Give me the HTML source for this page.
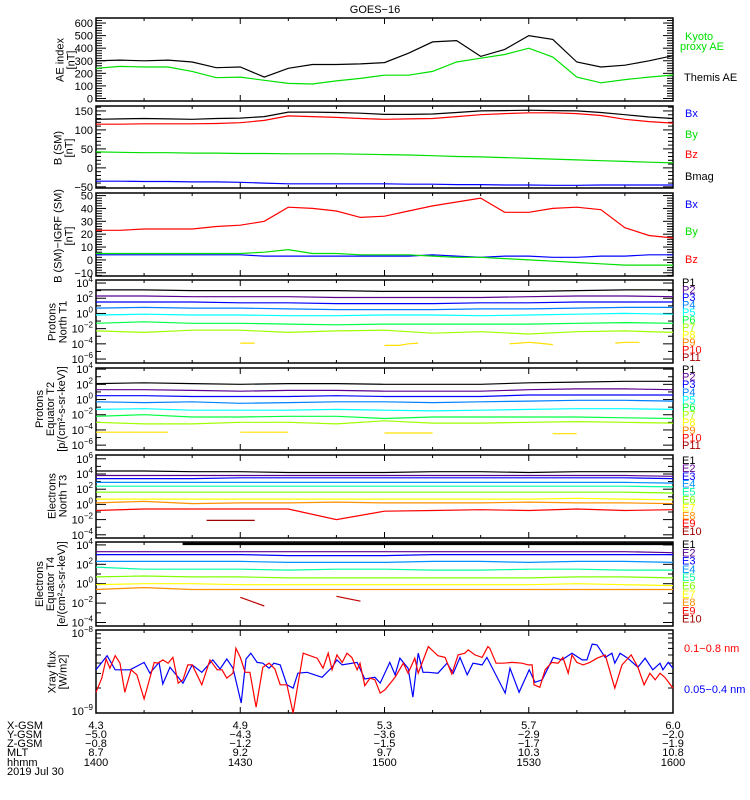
<!DOCTYPE html>
<html><head><meta charset="utf-8">
<style>
html,body{margin:0;padding:0;background:#fff;}
svg{display:block;font-family:"Liberation Sans",sans-serif;}
text{font-size:11px;}
</style></head>
<body>
<svg id="chart" width="750" height="800" viewBox="0 0 750 800" xmlns="http://www.w3.org/2000/svg">
<rect x="0" y="0" width="750" height="800" fill="#fff"/>
<text x="375" y="13" text-anchor="middle" font-size="12">GOES−16</text>
</svg>
<script>
// ---------- data ----------
const tGrid5 = [0,5,10,15,20,25,30,35,40,45,50,55,60,65,70,75,80,85,90,95,100,105,110,115,120];
const tGrid10 = [0,10,20,30,40,50,60,70,80,90,100,110,120];
const themisAE = [300,305,300,305,290,245,250,170,240,270,270,275,285,360,450,460,335,390,500,470,290,250,265,300,340];
const kyotoAE  = [240,255,250,250,215,165,170,145,120,115,140,160,185,185,215,290,320,350,400,330,170,125,150,170,187];
const bxSM = [-35,-35,-36,-36,-37,-37,-38,-40,-42,-42,-42,-42,-42,-43,-43,-44,-44,-45,-45,-46,-46,-45,-45,-45,-45];
const bySM = [42,41,40,40,39,39,38,38,37,37,37,36,35,34,32,30,29,27,25,23,21,19,17,15,13];
const bzSM = [115,115,116,116,116,117,119,125,137,135,133,130,128,129,130,135,140,143,145,145,143,138,128,122,118];
const bmagSM = [128,129,130,129,128,130,131,135,147,147,146,144,141,141,142,146,150,151,152,151,150,146,140,134,130];
const bxD = [4,4,4,4,4,4,4,3,3,3,3,3,3,3,4,3,2,3,3,2,2,3,3,4,4];
const byD = [5,5,5,5,5,5,5,6,8,5,5,4,4,4,3,2,2,1,0,-1,-2,-3,-4,-4,-4];
const bzD = [23,23,24,24,24,26,27,30,41,40,38,33,34,38,42,45,48,37,37,40,41,39,25,19,17];
const pN = [
 [3.1,3.1,3.0,3.0,3.0,3.0,2.9,2.9,2.9,2.9,3.0,3.1,3.1],
 [2.3,2.3,2.2,2.2,2.2,2.1,2.1,2.1,2.1,2.2,2.3,2.3,2.2],
 [1.5,1.5,1.5,1.4,1.4,1.3,1.3,1.3,1.4,1.4,1.5,1.5,1.5],
 [0.7,0.8,0.7,0.7,0.6,0.5,0.5,0.5,0.6,0.6,0.7,0.8,0.8],
 [-0.2,-0.1,-0.2,-0.2,-0.3,-0.3,-0.2,-0.2,-0.3,-0.2,-0.1,0.0,-0.1],
 [-1.3,-1.1,-1.3,-1.3,-1.4,-1.5,-1.4,-1.4,-1.4,-1.4,-1.3,-1.2,-1.3],
 [-2.3,-2.5,-2.2,-2.2,-2.5,-2.3,-2.2,-2.6,-2.4,-2.7,-2.4,-2.3,-2.5]
];
const pNyelT = [30,33,60,63,65,67,86,88,90,92,95,108,110,113];
const pNyel  = [-3.9,-3.9,-4.2,-4.2,-4.0,-3.9,-4.0,-3.9,-3.8,-3.9,-4.1,-3.9,-3.8,-3.8];
const pNyelBreak = [0,0,1,0,0,0,1,0,0,0,0,1,0,0];
const pE = [
 [2.1,2.2,2.1,2.0,2.1,2.1,2.0,2.0,2.0,2.2,2.3,2.4,2.4],
 [1.3,1.3,1.2,1.1,1.2,1.2,1.1,1.1,1.1,1.3,1.4,1.4,1.3],
 [0.5,0.5,0.4,0.4,0.4,0.5,0.4,0.4,0.4,0.6,0.6,0.6,0.6],
 [-0.3,-0.4,-0.3,-0.5,-0.4,-0.3,-0.3,-0.4,-0.3,-0.2,-0.1,-0.1,-0.2],
 [-1.3,-1.2,-1.4,-1.4,-1.4,-1.3,-1.4,-1.5,-1.4,-1.3,-1.2,-1.2,-1.3],
 [-2.2,-2.0,-2.3,-2.3,-2.2,-2.2,-2.5,-2.3,-2.3,-2.3,-2.3,-2.4,-2.5],
 [-3.0,-3.2,-3.2,-3.0,-3.0,-3.2,-2.8,-3.1,-3.1,-3.0,-2.9,-3.0,-3.1]
];
const pEyelT = [0,15,30,40,60,70,95,100];
const pEyel  = [-4.3,-4.3,-4.3,-4.3,-4.4,-4.4,-4.5,-4.5];
const pEyelBreak = [0,0,1,0,1,0,1,0];
const eN = [
 [4.4,4.4,4.3,4.3,4.2,4.2,4.2,4.3,4.3,4.2,4.3,4.3,4.3],
 [3.8,3.8,3.8,3.8,3.8,3.8,3.8,3.8,3.8,3.8,3.8,3.8,3.7],
 [3.4,3.4,3.4,3.5,3.5,3.5,3.5,3.5,3.5,3.5,3.5,3.5,3.4],
 [2.9,2.9,2.9,2.9,2.9,2.9,2.9,2.9,2.9,2.9,2.9,2.9,2.8],
 [2.4,2.4,2.4,2.4,2.4,2.4,2.4,2.4,2.4,2.4,2.4,2.4,2.3],
 [1.6,1.6,1.6,1.6,1.6,1.6,1.6,1.6,1.6,1.6,1.6,1.6,1.5],
 [0.7,0.7,0.7,0.7,0.7,0.7,0.7,0.7,0.7,0.7,0.8,0.7,0.6],
 [0.2,0.4,0.1,0.2,0.2,0.3,0.2,0.2,0.2,0.3,0.2,0.2,0.1],
 [-0.8,-0.6,-0.6,-0.6,-0.6,-2.0,-0.9,-0.8,-0.7,-0.8,-0.6,-0.8,-0.7]
];
const eNdrT = [23,33];
const eNdr  = [-2.1,-2.1];
const eE1T = [18,30,60,90,120];
const eE1 = [4.1,4.1,4.1,4.1,4.1];
const eE = [
 null,
 [3.3,3.3,3.3,3.3,3.3,3.3,3.3,3.3,3.3,3.3,3.3,3.3,3.2],
 [3.0,3.0,3.0,3.0,2.9,2.9,2.9,3.0,3.0,3.0,3.0,3.0,3.0],
 [2.3,2.3,2.3,2.3,2.2,2.2,2.2,2.3,2.3,2.2,2.3,2.3,2.2],
 [1.7,1.5,1.5,1.5,1.4,1.5,1.5,1.4,1.4,1.5,1.5,1.4,1.4],
 [0.7,0.8,0.7,0.7,0.6,0.6,0.6,0.6,0.6,0.6,0.7,0.7,0.6],
 [-0.1,0.0,0.0,-0.1,-0.1,-0.1,-0.1,-0.1,-0.1,-0.1,0.0,-0.1,-0.2],
 [-0.6,-0.4,-0.6,-0.6,-0.6,-0.6,-0.6,-0.6,-0.6,-0.6,-0.6,-0.6,-0.6]
];
const eEdrT = [30,35,50,55];
const eEdr  = [-1.4,-2.3,-1.3,-1.8];
const eEdrBreak = [0,0,1,0];
const xrBlueT = [0,2.3,4,7.1,10,11.2,13.1,13.9,15.4,18.1,20,22,24.3,25.8,27.2,28.5,30.2,31.2,32.2,33.5,34.7,36,37,38.3,39.7,41,42,43.9,47,49.1,50.1,51.2,54.3,55.9,58,59.1,61.1,62.2,63.2,64.9,65.9,67,68,69.1,71.1,73,74.3,75.7,77.2,78.4,80.3,81.3,85.1,86.1,88,90.1,91.3,92.8,95.1,96.9,99,101.1,102.1,103.2,104.2,105.9,107.3,107.9,109,110.6,112.7,114.2,115.8,117.3,117.9,119,120];
const xrBlue = [-8.48,-8.31,-8.48,-8.48,-8.39,-8.52,-8.39,-8.65,-8.45,-8.64,-8.42,-8.51,-8.36,-8.47,-8.35,-8.46,-8.88,-8.35,-8.28,-8.39,-8.40,-8.46,-8.40,-8.42,-8.66,-8.70,-8.52,-8.51,-8.57,-8.45,-8.36,-8.42,-8.39,-8.59,-8.57,-8.64,-8.39,-8.54,-8.34,-8.46,-8.81,-8.28,-8.51,-8.51,-8.52,-8.40,-8.52,-8.33,-8.54,-8.40,-8.42,-8.33,-8.76,-8.46,-8.75,-8.48,-8.63,-8.60,-8.33,-8.36,-8.28,-8.36,-8.36,-8.17,-8.18,-8.33,-8.28,-8.40,-8.28,-8.34,-8.45,-8.34,-8.48,-8.40,-8.48,-8.39,-8.46];
const xrRedT = [0,1.2,2.1,2.9,4,5,6,7.3,8.5,10,12.1,12.9,13.9,15,16,17.1,18.1,19.1,20,22,23.7,25.2,26.2,27.2,28.5,29.1,30,31,32,33.3,34.7,36,37.2,38.3,39.7,41,43.1,44.1,46,47.2,48.3,49.1,50.1,51.2,52.2,53.2,54.3,54.9,55.9,57,58,59.1,60.1,62.2,63.9,64.9,66.3,67,69.1,71.1,72.6,74,75.3,76.7,77.4,78.8,80.3,81.5,81.9,83.2,84.7,86.5,88.6,89.9,90.7,91.1,92.3,93.4,94.8,96.1,97.1,98.2,99,100,101.3,102.7,104.2,105.9,107.9,109.4,111.3,112.7,114,115.2,116.3,117.3,118.3,120];
const xrRed = [-8.75,-8.58,-8.35,-8.46,-8.31,-8.40,-8.75,-8.48,-8.54,-8.83,-8.39,-8.40,-8.36,-8.40,-8.33,-8.64,-8.60,-8.42,-8.42,-8.66,-8.36,-8.48,-8.48,-8.58,-8.52,-8.22,-8.33,-8.51,-8.51,-8.93,-8.45,-8.40,-8.47,-8.66,-8.66,-9.0,-8.28,-8.30,-8.34,-8.46,-8.28,-8.48,-8.30,-8.39,-8.28,-8.33,-8.48,-8.40,-8.67,-8.58,-8.60,-8.76,-8.72,-8.57,-8.40,-8.52,-8.34,-8.52,-8.20,-8.31,-8.33,-8.53,-8.30,-8.28,-8.24,-8.30,-8.33,-8.20,-8.22,-8.40,-8.40,-8.39,-8.40,-8.42,-8.42,-8.66,-8.69,-8.48,-8.39,-8.40,-8.33,-8.52,-8.30,-8.39,-8.42,-8.39,-8.34,-8.30,-8.70,-8.42,-8.30,-8.45,-8.66,-8.52,-8.60,-8.52,-8.57,-8.70];
const xTicks = [0,30,60,90,120];
const xGsm = ["4.3","4.9","5.3","5.7","6.0"];
const yGsm = ["−5.0","−4.3","−3.6","−2.9","−2.0"];
const zGsm = ["−0.8","−1.2","−1.5","−1.7","−1.9"];
const mlt = ["8.7","9.2","9.7","10.3","10.8"];
const hhmm = ["1400","1430","1500","1530","1600"];

// ---------- helpers ----------
const svg = document.getElementById('chart');
const NS = 'http://www.w3.org/2000/svg';
const X0 = 96, X1 = 673;
function xs(t){ return X0 + t/120*(X1-X0); }
function mk(tag, attrs, parent){
  const e = document.createElementNS(NS, tag);
  for (const k in attrs) e.setAttribute(k, attrs[k]);
  (parent||svg).appendChild(e);
  return e;
}
function linScale(y0,y1,min,max){ return v => y1 - (v-min)/(max-min)*(y1-y0); }
function line(ts, vs, ys, color, name, brk, w){
  let d = '';
  for (let i=0;i<ts.length;i++){
    const cmd = (i===0 || (brk && brk[i])) ? 'M' : 'L';
    d += cmd + xs(ts[i]).toFixed(1) + ' ' + ys(vs[i]).toFixed(1) + ' ';
  }
  const p = mk('path', {d:d, fill:'none', stroke:color, 'stroke-width':w||1.2});
  
  
  return p;
}
function frame(y0,y1,name){
  const r = mk('rect', {x:X0, y:y0, width:X1-X0, height:y1-y0, fill:'none', stroke:'#000', 'stroke-width':1.5});
  
  
  for (let t=0;t<=120;t+=10){
    const L = (t%30===0)?6:3;
    mk('line',{x1:xs(t),x2:xs(t),y1:y1,y2:y1-L,stroke:'#000'});
    mk('line',{x1:xs(t),x2:xs(t),y1:y0,y2:y0+L,stroke:'#000'});
  }
}
function yTick(y,len){
  mk('line',{x1:X0,x2:X0+len,y1:y,y2:y,stroke:'#000'});
  mk('line',{x1:X1,x2:X1-len,y1:y,y2:y,stroke:'#000'});
}
function label(x,y,s,name,anchor,color,size){
  const t = mk('text',{x:x,y:y,'text-anchor':anchor||'end',fill:color||'#000'});
  if (size) t.setAttribute('font-size', size);
  t.textContent = s;
  
  
  return t;
}
function powLabel(y,exp,name){
  const t = mk('text',{x:93,y:y+4,'text-anchor':'end'});
  
  
  const a = mk('tspan',{},t); a.textContent='10';
  const b = mk('tspan',{dy:-5,'font-size':8},t); b.textContent = exp<0 ? '−'+(-exp) : String(exp);
}
function vTitle(cx, cy, lines, name){
  const g = mk('g',{});
  
  
  lines.forEach((s,i)=>{
    const x = cx + (i-(lines.length-1)/2)*11;
    const t = mk('text',{x:x,y:cy,transform:'rotate(-90 '+x+' '+cy+')','text-anchor':'middle','dominant-baseline':'middle'},g);
    t.textContent = s;
  });
}
function legend(x,ys,texts,colors,prefix,size){
  ys.forEach((y,i)=>{
    label(x,y,texts[i],prefix+'-'+texts[i].toLowerCase().replace(/[^a-z0-9]+/g,'-'),'start',colors[i],size);
  });
}

// ---------- panel 1: AE ----------
{
  const y0=18,y1=101, ys=linScale(y0,y1,-20,640);
  frame(y0,y1,'ae-panel-frame');
  for (let v=0; v<=640; v+=20) yTick(ys(v), v%100===0?10:6);
  for (let v=0; v<=600; v+=100) label(93, ys(v)+4, String(v), 'ae-tick-'+v);
  line(tGrid5, kyotoAE, ys, '#00e000', 'kyoto-proxy-ae-line');
  line(tGrid5, themisAE, ys, '#000', 'themis-ae-line');
  vTitle(66, 60, ['AE index','[nT]'], 'ae-y-axis-title');
  label(685,40,'Kyoto','kyoto-legend-1','start','#00e000');
  label(680,50,'proxy AE','kyoto-legend-2','start','#00e000');
  label(684,81,'Themis AE','themis-legend','start','#000');
}
// ---------- panel 2: B(SM) ----------
{
  const y0=106,y1=188, ys=linScale(y0,y1,-53,163);
  frame(y0,y1,'bsm-panel-frame');
  for (let v=-50; v<=160; v+=10) yTick(ys(v), v%50===0?10:5);
  [-50,0,50,100,150].forEach(v=>label(93, ys(v)+4, v<0?'−'+(-v):String(v), 'bsm-tick-'+v));
  line(tGrid5, bxSM, ys, '#0000ff', 'bsm-bx-line');
  line(tGrid5, bySM, ys, '#00e000', 'bsm-by-line');
  line(tGrid5, bmagSM, ys, '#000', 'bsm-bmag-line');
  line(tGrid5, bzSM, ys, '#ff0000', 'bsm-bz-line');
  vTitle(64, 148, ['B (SM)','[nT]'], 'bsm-y-axis-title');
  legend(685,[117,138,158,180],['Bx','By','Bz','Bmag'],['#0000ff','#00e000','#ff0000','#000'],'bsm-legend');
}
// ---------- panel 3: B - IGRF ----------
{
  const y0=193,y1=276, ys=linScale(y0,y1,-12.5,52);
  frame(y0,y1,'bigrf-panel-frame');
  for (let v=-12; v<=52; v+=2) yTick(ys(v), v%10===0?10:6);
  for (let v=-10; v<=50; v+=10) label(93, ys(v)+4, v<0?'−'+(-v):String(v), 'bigrf-tick-'+v);
  line(tGrid5, bxD, ys, '#0000ff', 'bigrf-bx-line');
  line(tGrid5, byD, ys, '#00e000', 'bigrf-by-line');
  line(tGrid5, bzD, ys, '#ff0000', 'bigrf-bz-line');
  vTitle(64, 236, ['B (SM)−IGRF (SM)','[nT]'], 'bigrf-y-axis-title');
  legend(685,[208,235,263],['Bx','By','Bz'],['#0000ff','#00e000','#ff0000'],'bigrf-legend');
}
const pColors = ['#000','#5a0090','#0000ff','#0080ff','#00ffff','#00ff40','#a0ff00','#ffff00','#ff8000','#ff0000','#a00000'];
const eColors = ['#000','#5a0090','#0000ff','#0090ff','#00ffa0','#80ff00','#ffff00','#ff9000','#ff0000','#a00000'];
function logPanel(y0,y1,topLog,pxDec,labels,name){
  const ys = v => y0 + (topLog - v)*pxDec;
  frame(y0,y1,name+'-panel-frame');
  const lo = topLog - (y1-y0)/pxDec;
  for (let d=Math.ceil(lo); d<=Math.floor(topLog); d++){
    yTick(ys(d), d%2===0?10:5);
  }
  labels.forEach(e=>powLabel(ys(e), e, name+'-tick-'+e));
  return ys;
}
// ---------- panel 4: Protons North ----------
{
  const ys = logPanel(280,363,4.4,7.6,[4,2,0,-2,-4,-6],'protons-north');
  pN.forEach((arr,i)=>line(tGrid10, arr, ys, pColors[i], 'protons-north-p'+(i+1)+'-line'));
  line(pNyelT, pNyel, ys, '#ffe000', 'protons-north-p8-line', pNyelBreak);
  vTitle(58, 322, ['Protons','North T1'], 'protons-north-y-axis-title');
  const names=['P1','P2','P3','P4','P5','P6','P7','P8','P9','P10','P11'];
  legend(682, names.map((n,i)=>286+i*7.5), names, pColors, 'protons-north-legend', 9);
}
// ---------- panel 5: Protons Equator ----------
{
  const ys = logPanel(368,450,4.15,7.6,[4,2,0,-2,-4,-6],'protons-equator');
  pE.forEach((arr,i)=>line(tGrid10, arr, ys, pColors[i], 'protons-equator-p'+(i+1)+'-line'));
  line(pEyelT, pEyel, ys, '#ffe000', 'protons-equator-p8-line', pEyelBreak);
  vTitle(51, 409, ['Protons','Equator T2','[p/(cm²-s-sr-keV)]'], 'protons-equator-y-axis-title');
  const names=['P1','P2','P3','P4','P5','P6','P7','P8','P9','P10','P11'];
  legend(682, names.map((n,i)=>373+i*7.6), names, pColors, 'protons-equator-legend', 9);
}
// ---------- panel 6: Electrons North ----------
{
  const ys = logPanel(455,538,6.5,7.6,[6,4,2,0,-2,-4],'electrons-north');
  eN.forEach((arr,i)=>line(tGrid10, arr, ys, eColors[i], 'electrons-north-e'+(i+1)+'-line'));
  line(eNdrT, eNdr, ys, '#a00000', 'electrons-north-e10-line');
  vTitle(58, 496, ['Electrons','North T3'], 'electrons-north-y-axis-title');
  const names=['E1','E2','E3','E4','E5','E6','E7','E8','E9','E10'];
  legend(682, names.map((n,i)=>464+i*7.9), names, eColors, 'electrons-north-legend', 9);
}
// ---------- panel 7: Electrons Equator ----------
{
  const ys = logPanel(542,626,4.3,9.7,[4,2,0,-2,-4],'electrons-equator');
  line(eE1T, eE1, ys, '#000', 'electrons-equator-e1-line', null, 2.5);
  eE.forEach((arr,i)=>{ if(arr) line(tGrid10, arr, ys, eColors[i], 'electrons-equator-e'+(i+1)+'-line'); });
  line(eEdrT, eEdr, ys, '#c00000', 'electrons-equator-e9-line', eEdrBreak);
  vTitle(51, 584, ['Electrons','Equator T4','[e/(cm²-s-sr-keV)]'], 'electrons-equator-y-axis-title');
  const names=['E1','E2','E3','E4','E5','E6','E7','E8','E9','E10'];
  legend(682, names.map((n,i)=>548+i*8.3), names, eColors, 'electrons-equator-legend', 9);
}
// ---------- panel 8: Xray ----------
{
  const y0=630,y1=713, ys=linScale(y0,y1,-9,-8);
  frame(y0,y1,'xray-panel-frame');
  for (let m=2;m<=9;m++) yTick(ys(-9+Math.log10(m)), 5);
  powLabel(ys(-8)+3, -8, 'xray-tick-1e-8');
  powLabel(ys(-9)-2, -9, 'xray-tick-1e-9');
  line(xrBlueT, xrBlue, ys, '#0000ff', 'xray-short-line');
  line(xrRedT, xrRed, ys, '#ff0000', 'xray-long-line');
  vTitle(58, 672, ['Xray flux','[W/m2]'], 'xray-y-axis-title');
  label(684,652,'0.1−0.8 nm','xray-long-legend','start','#ff0000');
  label(684,693,'0.05−0.4 nm','xray-short-legend','start','#0000ff');
}
// ---------- bottom axis labels ----------
{
  const rows = [['X-GSM',xGsm,729],['Y-GSM',yGsm,738],['Z-GSM',zGsm,747],['MLT',mlt,756],['hhmm',hhmm,766]];
  rows.forEach(r=>{
    label(7, r[2], r[0], 'row-label-'+r[0].toLowerCase(), 'start');
    xTicks.forEach((t,i)=>label(xs(t), r[2], r[1][i], 'x-label-'+r[0].toLowerCase()+'-'+i, 'middle'));
  });
  label(7, 775, '2019 Jul 30', 'date-label', 'start');
}
</script>
</body></html>
